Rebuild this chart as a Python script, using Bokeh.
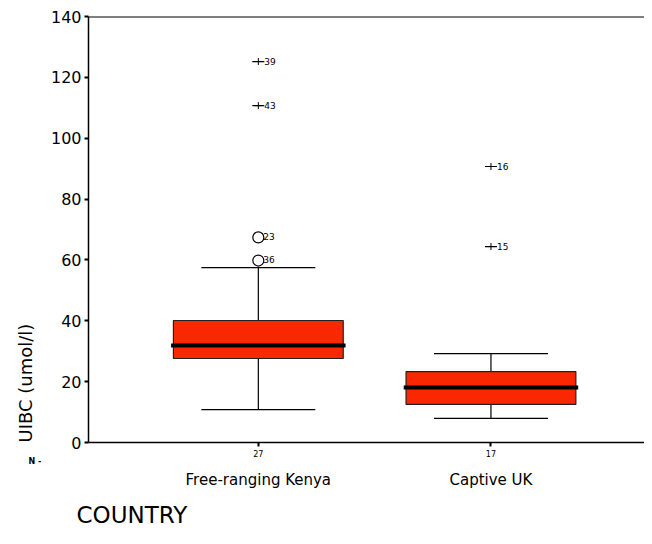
from bokeh.plotting import figure
from bokeh.models import (ColumnDataSource, LinearAxis, FixedTicker, Span, Range1d, Title)
from bokeh.core.properties import value
from bokeh.embed import file_html
from bokeh.resources import INLINE

# ---- data ----
groups = ["Free-ranging Kenya", "Captive UK"]
group_n = ["27", "17"]
xpos = [1, 2]
q1 = [27.6, 12.5]
median = [31.9, 18.1]
q3 = [40.1, 23.3]
whisk_lo = [10.8, 7.9]
whisk_hi = [57.5, 29.2]

# mild outliers (circles)
out_x = [1, 1]
out_y = [67.4, 59.8]
out_lbl = ["23", "36"]
# extreme outliers (stars)
ext_x = [1, 1, 2, 2]
ext_y = [125.2, 110.7, 90.7, 64.4]
ext_lbl = ["39", "43", "16", "15"]

y_ticks = [0, 20, 40, 60, 80, 100, 120, 140]

FONT = "DejaVu Sans"
BOX_W = 0.73
CAP_W = 0.49

p = figure(width=644, height=536, output_backend="svg", toolbar_location=None,
           x_range=Range1d(0.270, 2.660), y_range=Range1d(0, 140),
           min_border_left=87, min_border_right=0, min_border_top=16, min_border_bottom=94,
           x_axis_location=None, y_axis_location=None)
p.grid.visible = False
p.outline_line_color = None
p.background_fill_color = "white"
p.border_fill_color = "white"

# left axis
ya = LinearAxis(ticker=FixedTicker(ticks=y_ticks))
ya.axis_line_color = "black"
ya.axis_line_width = 1.5
ya.major_tick_in = 0
ya.major_tick_out = 4
ya.major_tick_line_width = 2
ya.minor_tick_line_color = None
ya.major_label_text_font = FONT
ya.major_label_text_font_size = "16px"
ya.major_label_text_color = "black"
ya.major_label_standoff = 3
p.add_layout(ya, "left")

# bottom axis with N labels
xa = LinearAxis(ticker=FixedTicker(ticks=xpos))
xa.major_label_overrides = {1: group_n[0], 2: group_n[1]}
xa.axis_line_color = "black"
xa.axis_line_width = 1.5
xa.major_tick_in = 0
xa.major_tick_out = 4
xa.major_tick_line_width = 2
xa.minor_tick_line_color = None
xa.major_label_text_font = FONT
xa.major_label_text_font_size = "8px"
xa.major_label_text_color = "black"
xa.major_label_standoff = 3
p.add_layout(xa, "below")

# "N -" marker row label
tn = Title(text="N -", align="left", offset=-60, standoff=-12,
           text_font=FONT, text_font_size="8px", text_font_style="bold", text_color="black")
p.add_layout(tn, "below")

# category name axis
xc = LinearAxis(ticker=FixedTicker(ticks=xpos))
xc.major_label_overrides = {1: groups[0], 2: groups[1]}
xc.axis_line_color = None
xc.major_tick_line_color = None
xc.major_tick_in = 0
xc.major_tick_out = 0
xc.minor_tick_line_color = None
xc.major_label_text_font = FONT
xc.major_label_text_font_size = "15px"
xc.major_label_text_color = "black"
xc.major_label_standoff = 11
p.add_layout(xc, "below")

# x title
tx = Title(text="COUNTRY", align="left", offset=-12, standoff=17,
           text_font=FONT, text_font_size="23px", text_font_style="normal", text_color="black")
p.add_layout(tx, "below")

# y title
ty = Title(text="UIBC (umol/l)", align="left", offset=0, standoff=24,
           text_font=FONT, text_font_size="18px", text_font_style="normal", text_color="black")
p.add_layout(ty, "left")

# top line
p.add_layout(Span(location=140, dimension="width", line_color="black", line_width=2))

src = ColumnDataSource(dict(x=xpos, q1=q1, med=median, q3=q3, lo=whisk_lo, hi=whisk_hi))

# whiskers
p.segment(x0="x", y0="q3", x1="x", y1="hi", source=src, line_color="black", line_width=1.2)
p.segment(x0="x", y0="lo", x1="x", y1="q1", source=src, line_color="black", line_width=1.2)
cap_src = ColumnDataSource(dict(
    x0=[x - CAP_W / 2 for x in xpos] * 2,
    x1=[x + CAP_W / 2 for x in xpos] * 2,
    y=whisk_hi + whisk_lo))
p.segment(x0="x0", y0="y", x1="x1", y1="y", source=cap_src, line_color="black", line_width=1.2)

# boxes
p.vbar(x="x", width=BOX_W, bottom="q1", top="q3", source=src,
       fill_color="#FA2800", line_color="#222222", line_width=1.2)
med_src = ColumnDataSource(dict(x0=[x - BOX_W / 2 - 0.01 for x in xpos],
                                x1=[x + BOX_W / 2 + 0.01 for x in xpos], y=median))
p.segment(x0="x0", y0="y", x1="x1", y1="y", source=med_src, line_color="black", line_width=4)

# outliers
osrc = ColumnDataSource(dict(x=out_x, y=out_y, t=out_lbl))
p.scatter(x="x", y="y", source=osrc, marker="circle", size=11,
          fill_color="white", line_color="black", line_width=1.2)
p.text(x="x", y="y", text="t", source=osrc, x_offset=5, y_offset=-1,
       text_font=value(FONT), text_font_size="9px", text_baseline="middle", text_color="black")

esrc = ColumnDataSource(dict(x=ext_x, y=ext_y, t=ext_lbl))
p.scatter(x="x", y="y", source=esrc, marker="dash", size=12, line_color="black", line_width=1.2)
p.scatter(x="x", y="y", source=esrc, marker="cross", size=7, line_color="black", line_width=1)
p.text(x="x", y="y", text="t", source=esrc, x_offset=6,
       text_font=value(FONT), text_font_size="9px", text_baseline="middle", text_color="black")

open("out.html", "w").write(file_html(p, INLINE))
